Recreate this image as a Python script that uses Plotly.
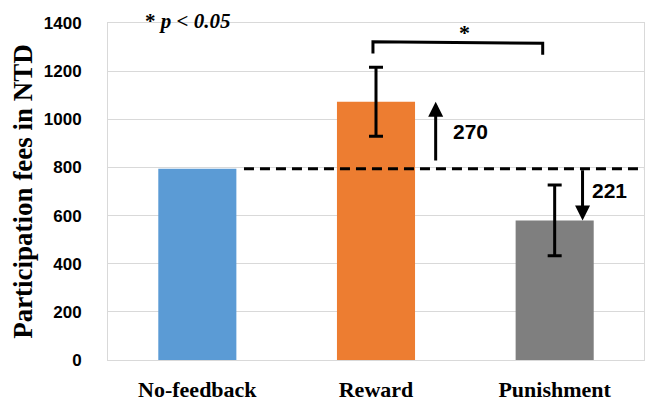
import plotly.graph_objects as go

# ---- data ----
categories = ["No-feedback", "Reward", "Punishment"]
means = [795, 1073, 580]
err_categories = ["Reward", "Punishment"]
err_values = [143, 147]
err_means = [1073, 580]
diff_labels = ["270", "221"]
y_ticks = [0, 200, 400, 600, 800, 1000, 1200, 1400]
bar_colors = ["#5b9bd5", "#ed7d31", "#7f7f7f"]

serif = "Liberation Serif"
sans = "Liberation Sans"

fig = go.Figure()
fig.add_trace(go.Bar(
    x=categories, y=means, marker=dict(color=bar_colors, line=dict(width=0)),
    width=0.437, showlegend=False, hoverinfo="skip"))
fig.add_trace(go.Scatter(
    x=err_categories, y=err_means, mode="markers",
    marker=dict(size=0.1, color="rgba(0,0,0,0)"),
    error_y=dict(type="data", array=err_values, color="black", thickness=3, width=7),
    showlegend=False, hoverinfo="skip"))

# dashed baseline at No-feedback level
fig.add_shape(type="line", xref="x", yref="y", x0=0.261, x1=2.5, y0=means[0], y1=means[0],
              line=dict(color="black", width=3, dash="10px,6px"), layer="above")

# significance bracket
fig.add_shape(type="path", xref="x", yref="y",
              path="M 0.983,1273 L 0.983,1322 L 1.933,1316 L 1.933,1268",
              line=dict(color="black", width=3), layer="above")

# arrows
fig.add_annotation(x=1.334, y=means[1], ax=1.334, ay=means[0] + 28, xref="x", yref="y",
                   axref="x", ayref="y", showarrow=True, arrowhead=2, arrowsize=1.0,
                   arrowwidth=3, arrowcolor="black", text="")
fig.add_annotation(x=2.156, y=means[2], ax=2.156, ay=means[0], xref="x", yref="y",
                   axref="x", ayref="y", showarrow=True, arrowhead=2, arrowsize=1.0,
                   arrowwidth=3, arrowcolor="black", text="")
fig.add_annotation(x=1.531, y=951, xref="x", yref="y", text=diff_labels[0], showarrow=False,
                   xanchor="center", yanchor="middle",
                   font=dict(family=sans, size=21, color="black", weight="bold"))
fig.add_annotation(x=2.309, y=705, xref="x", yref="y", text=diff_labels[1], showarrow=False,
                   xanchor="center", yanchor="middle",
                   font=dict(family=sans, size=21, color="black", weight="bold"))
fig.add_annotation(x=1.498, y=1362, xref="x", yref="y", text="*", showarrow=False,
                   xanchor="center", yanchor="middle",
                   font=dict(family=serif, size=22, color="black", weight="bold"))
fig.add_annotation(x=0.149, y=1.044, xref="paper", yref="paper", text="* <i>p &lt; 0.05</i>",
                   showarrow=False, xanchor="center", yanchor="top", borderpad=0,
                   font=dict(family=serif, size=21, color="black", weight="bold"))

fig.update_layout(
    width=658, height=393,
    margin=dict(l=100, r=22, t=15, b=41, autoexpand=False),
    paper_bgcolor="white", plot_bgcolor="white",
    bargap=0.563,
    xaxis=dict(type="category", range=[-0.5, 2.5], showgrid=False,
               showline=True, linecolor="#d9d9d9", linewidth=1, mirror=True,
               ticks="", ticklabelstandoff=10,
               tickfont=dict(family=serif, size=22, color="black", weight="bold")),
    yaxis=dict(range=[0, 1400], tickvals=y_ticks, showgrid=True, gridcolor="#d9d9d9",
               gridwidth=1, zeroline=False, showline=True, linecolor="#d9d9d9",
               linewidth=1, mirror=True, ticks="", ticklabelstandoff=22,
               tickfont=dict(family=sans, size=17, color="black", weight="bold"),
               title=dict(text="Participation fees in NTD", standoff=20,
                          font=dict(family=serif, size=27, color="black", weight="bold"))),
)

fig.write_html("out.html")
